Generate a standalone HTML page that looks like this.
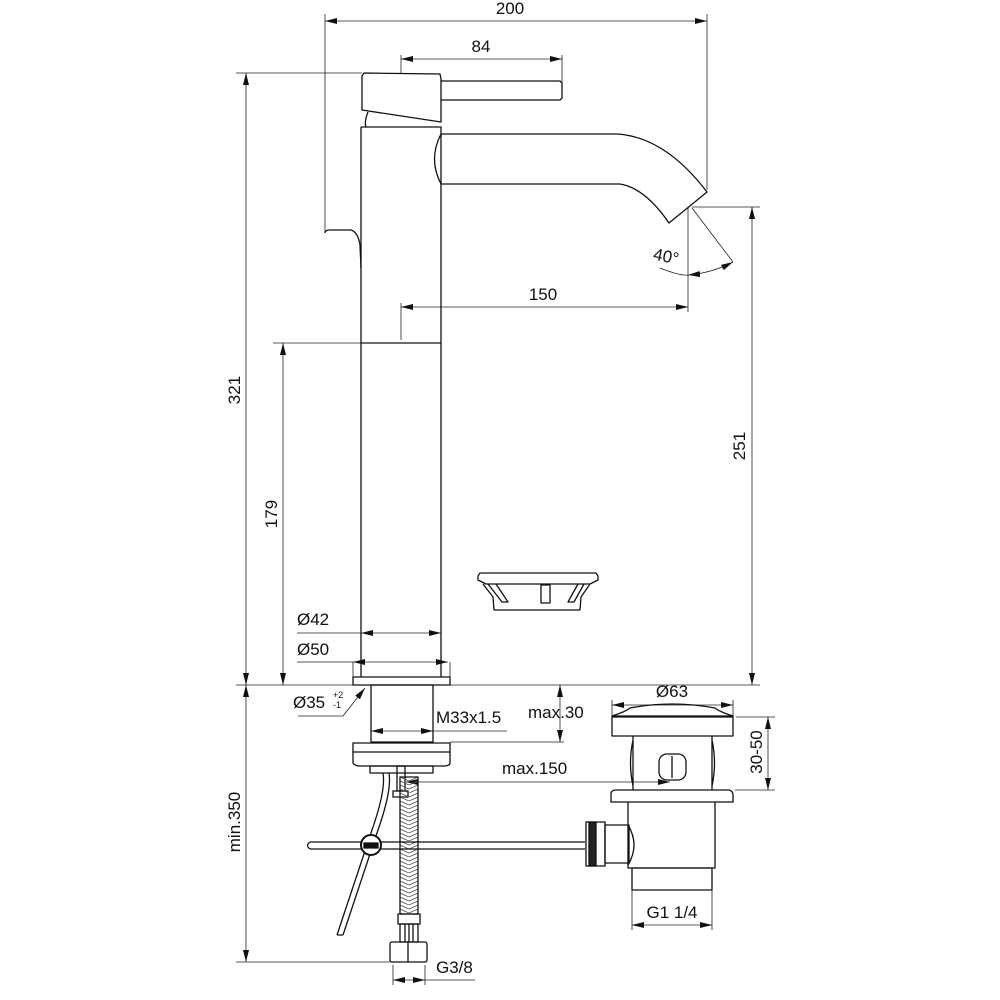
<!DOCTYPE html>
<html><head><meta charset="utf-8"><style>html,body{margin:0;padding:0;background:#fff}svg{display:block}text{font-family:"Liberation Sans",Arial,sans-serif;fill:#111}</style></head>
<body>
<svg width="1000" height="1000" viewBox="0 0 1000 1000" xmlns="http://www.w3.org/2000/svg">
<defs>
<marker id="a" viewBox="0 0 12 6" refX="12" refY="3" markerWidth="12" markerHeight="6" orient="auto-start-reverse" markerUnits="userSpaceOnUse"><path d="M0,0 L12,3 L0,6z" fill="#111"/></marker>
<pattern id="br" width="18" height="8" patternUnits="userSpaceOnUse" x="400" y="777"><path d="M0,0 L9,4 L18,0 M0,4 L9,8 L18,4" stroke="#555" stroke-width="0.8" fill="none"/></pattern>
</defs>
<g stroke="#222" stroke-width="0.8" fill="none">
<line x1="325" y1="21" x2="707" y2="21" marker-start="url(#a)" marker-end="url(#a)"/>
<line x1="325" y1="14" x2="325" y2="232"/><line x1="707" y1="14" x2="707" y2="190"/>
<line x1="401" y1="59" x2="562" y2="59" marker-start="url(#a)" marker-end="url(#a)"/>
<line x1="401" y1="55" x2="401" y2="74"/><line x1="562" y1="55" x2="562" y2="82"/>
<line x1="246" y1="73" x2="246" y2="685" marker-start="url(#a)" marker-end="url(#a)"/>
<line x1="236" y1="73" x2="362" y2="73"/>
<line x1="236" y1="685" x2="353" y2="685"/><line x1="450" y1="685" x2="760" y2="685"/>
<line x1="283" y1="343" x2="283" y2="685" marker-start="url(#a)" marker-end="url(#a)"/>
<line x1="273" y1="343" x2="361" y2="343"/>
<line x1="752" y1="207" x2="752" y2="685" marker-start="url(#a)" marker-end="url(#a)"/>
<line x1="692" y1="207" x2="760" y2="207"/>
<line x1="401" y1="307" x2="688" y2="307" marker-start="url(#a)" marker-end="url(#a)"/>
<line x1="401" y1="303" x2="401" y2="340"/><line x1="688" y1="207" x2="688" y2="312"/>
<line x1="692" y1="208" x2="733" y2="262"/>
<path d="M660,268 Q680,276 688,275" />
<path d="M688,275 Q712,273 733,262" marker-start="url(#a)" marker-end="url(#a)"/>
<line x1="297" y1="633" x2="361" y2="633"/>
<line x1="361" y1="633" x2="441" y2="633" marker-start="url(#a)" marker-end="url(#a)"/>
<line x1="297" y1="662" x2="353" y2="662"/>
<line x1="353" y1="662" x2="448" y2="662" marker-start="url(#a)" marker-end="url(#a)"/>
<line x1="353" y1="662" x2="353" y2="677"/><line x1="450" y1="662" x2="450" y2="677"/>
<polyline points="298,716 343,716"/><line x1="343" y1="716" x2="365" y2="688" marker-end="url(#a)"/>
<line x1="371" y1="731" x2="433" y2="731" marker-start="url(#a)" marker-end="url(#a)"/>
<line x1="433" y1="731" x2="507" y2="731"/>
<line x1="560" y1="685" x2="560" y2="742" marker-start="url(#a)" marker-end="url(#a)"/>
<line x1="450" y1="742" x2="564" y2="742"/>
<line x1="406" y1="782" x2="418" y2="782" marker-start="url(#a)"/>
<line x1="418" y1="782" x2="640" y2="782"/>
<line x1="640" y1="782" x2="670" y2="782" marker-end="url(#a)"/>
<line x1="246" y1="685" x2="246" y2="962" marker-start="url(#a)" marker-end="url(#a)"/>
<line x1="236" y1="962" x2="390" y2="962"/>
<line x1="393" y1="980" x2="425" y2="980" marker-start="url(#a)" marker-end="url(#a)"/>
<line x1="425" y1="980" x2="475" y2="980"/>
<line x1="393" y1="965" x2="393" y2="985"/><line x1="425" y1="965" x2="425" y2="985"/>
<line x1="612" y1="705" x2="733" y2="705" marker-start="url(#a)" marker-end="url(#a)"/>
<line x1="612" y1="700" x2="612" y2="716"/><line x1="733" y1="700" x2="733" y2="716"/>
<line x1="768" y1="717" x2="768" y2="790" marker-start="url(#a)" marker-end="url(#a)"/>
<line x1="736" y1="717" x2="775" y2="717"/><line x1="735" y1="790" x2="775" y2="790"/>
<line x1="632" y1="925" x2="712" y2="925" marker-start="url(#a)" marker-end="url(#a)"/>
<line x1="632" y1="890" x2="632" y2="930"/><line x1="712" y1="890" x2="712" y2="930"/>
</g>
<g stroke="#111" stroke-width="1.3" fill="none" stroke-linejoin="round">
<path d="M362,76 L364,73 L440,74 L441,79 L441,122 L362,110 Z"/>
<path d="M441,81 L560,81 L562,83 L562,98 L560,100 L441,100"/>
<path d="M368,112 Q364,122 366,127"/>
<path d="M361,127 L441,127 L441,677 M361,127 L361,677"/>
<line x1="361" y1="343" x2="441" y2="343"/>
<path d="M441,134 L617,134 Q665,137 707,192 L669,223 Q645,188 620,184 L441,184"/>
<path d="M441,134 Q428,159 441,184"/>
<path d="M325,233 Q325,230 330,230 L351,230 Q358,232 360,245 L361,268"/>
<rect x="353" y="677" width="97" height="8"/>
<rect x="371" y="685" width="62" height="57"/>
<rect x="353" y="743" width="97" height="9"/>
<path d="M353,752 L353,763 Q355,766 360,766 L443,766 Q450,766 450,763 L450,752"/>
<rect x="370" y="766" width="63" height="7"/>
<rect x="397" y="766" width="8" height="25"/>
<rect x="393" y="791" width="15" height="6"/>
<rect x="400" y="777" width="18" height="137" fill="url(#br)"/>
<rect x="398" y="914" width="22" height="10"/>
<rect x="400" y="924" width="18" height="18"/>
<line x1="405" y1="924" x2="405" y2="942"/><line x1="409" y1="924" x2="409" y2="942"/><line x1="413" y1="924" x2="413" y2="942"/>
<rect x="390" y="942" width="37" height="20" rx="2"/><line x1="408" y1="942" x2="408" y2="962"/>
<path d="M310,842 L585,842 M310,849 L585,849 M310,842 Q305,845.5 310,849"/>
<path d="M389,773 Q392,790 378,830 L343,935 M383,773 Q386,790 372,830 L337,935 M343,935 L337,935"/>
<circle cx="371" cy="845" r="10" fill="#fff" stroke-width="2"/><rect x="364" y="843" width="14" height="5" fill="#111"/>
<path d="M612,716 Q625,712 630,708 Q672,700 715,708 Q720,712 733,716 Z"/>
<rect x="612" y="717" width="121" height="19"/>
<path d="M633,736 L633,790 M712,736 L712,790 M633,740 Q628,763 633,786 M712,740 Q717,763 712,786"/>
<rect x="659" y="754" width="27" height="26" rx="8"/><line x1="672" y1="756" x2="672" y2="778"/>
<path d="M611,802 L611,793 Q612,790 616,790 L729,790 Q733,791 733,795 L733,802 Z"/>
<path d="M628,802 L628,868 L715,868 L715,802"/>
<rect x="632" y="868" width="80" height="22"/>
<rect x="605" y="825" width="24" height="38"/>
<rect x="586" y="822" width="19" height="44"/>
<rect x="589" y="822" width="7" height="44" fill="#222"/>
<path d="M628,825 Q640,845 628,865"/>
<path d="M478,576 L480,573 L596,573 L598,576 L598,580 L590,584 L486,584 L478,580 Z"/>
<path d="M483,584 L493,597 L494,610 L580,610 L581,597 L590,584"/>
<path d="M488,584 L502,602 L508,602 L496,584 M578,584 L568,602 L574,602 L584,584"/>
<rect x="541" y="585" width="9" height="18"/>
</g>
<g font-size="17">
<text x="510" y="14" text-anchor="middle">200</text>
<text x="481" y="52" text-anchor="middle">84</text>
<text x="543" y="300" text-anchor="middle">150</text>
<text x="665" y="262" text-anchor="middle" transform="rotate(12 665 262)">40°</text>
<text transform="translate(240,390) rotate(-90)" text-anchor="middle">321</text>
<text transform="translate(277,514) rotate(-90)" text-anchor="middle">179</text>
<text transform="translate(745,446) rotate(-90)" text-anchor="middle">251</text>
<text transform="translate(240,822) rotate(-90)" text-anchor="middle">min.350</text>
<text transform="translate(762,752) rotate(-90)" text-anchor="middle">30-50</text>
<text x="297" y="625">Ø42</text>
<text x="297" y="655">Ø50</text>
<text x="293" y="708">Ø35</text>
<text x="333" y="698" font-size="9">+2</text>
<text x="333" y="708" font-size="9">-1</text>
<text x="436" y="723">M33x1.5</text>
<text x="528" y="718">max.30</text>
<text x="502" y="774">max.150</text>
<text x="672" y="697" text-anchor="middle">Ø63</text>
<text x="672" y="918" text-anchor="middle">G1 1/4</text>
<text x="436" y="973">G3/8</text>
</g>
</svg>
</body></html>
